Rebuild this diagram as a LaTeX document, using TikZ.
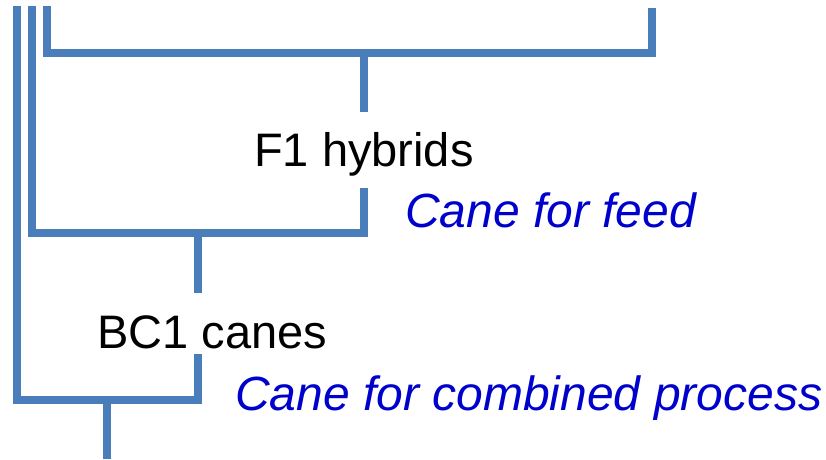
\documentclass[tikz,border=0pt]{standalone}
\usepackage{fontspec}
\setmainfont{Liberation Sans}
\definecolor{linecol}{RGB}{74,126,187}
\definecolor{txtblue}{RGB}{0,0,204}
\tikzset{
  bracket/.style={draw=linecol, line width=8pt, line cap=butt, line join=miter},
  label/.style={inner sep=0pt, anchor=base west, font=\fontsize{47}{52}\selectfont},
  note/.style={label, text=txtblue, font=\fontsize{48}{53}\selectfont\itshape}
}
\begin{document}
\begin{tikzpicture}[x=1pt,y=-1pt]
\useasboundingbox (0,0) rectangle (826,459);
% text nodes
\node[label] (f1) at (254,166) {F1 hybrids};
\node[note] (feed) at (405,227) {Cane for feed};
\node[label] (bc1) at (97,348) {BC1 canes};
\node[note] (comb) at (235,410) {Cane for combined process};
% coordinates
\coordinate (a1) at (47,6);
\coordinate (a2) at (652,8);
\coordinate (a3) at (364,112);
\coordinate (b1) at (32,6);
\coordinate (b2) at (364,188);
\coordinate (b3) at (198,293);
\coordinate (c1) at (17,6);
\coordinate (c2) at (198,354);
\coordinate (c3) at (107,459);
% top bracket
\draw[bracket] (a1) -- (47,53) -- (652,53) -- (a2);
\draw[bracket] (364,53) -- (a3);
% middle bracket
\draw[bracket] (b1) -- (32,233) -- (364,233) -- (b2);
\draw[bracket] (198,233) -- (b3);
% bottom bracket
\draw[bracket] (c1) -- (17,400) -- (198,400) -- (c2);
\draw[bracket] (107,400) -- (c3);
\end{tikzpicture}
\end{document}
